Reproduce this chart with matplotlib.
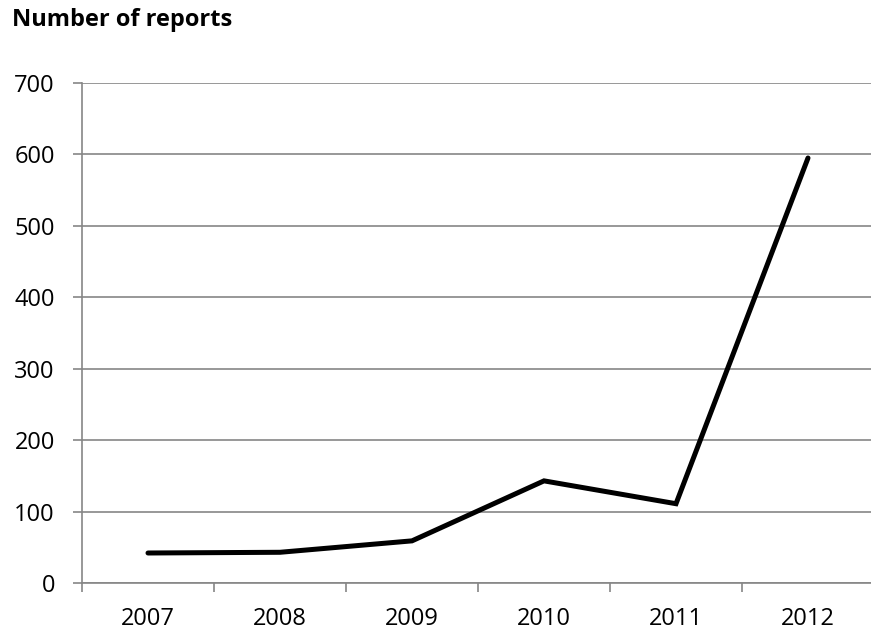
import matplotlib
matplotlib.use("Agg")
import matplotlib.pyplot as plt

years = ["2007", "2008", "2009", "2010", "2011", "2012"]
reports = [42, 43, 59, 143, 111, 595]
y_ticks = [0, 100, 200, 300, 400, 500, 600, 700]

plt.rcParams["font.family"] = ["Open Sans", "DejaVu Sans"]
GRID = "#868686"
FS = 17

fig = plt.figure(figsize=(8.71, 6.33), dpi=100)
W, H = 871, 633
ax = fig.add_axes([82 / W, (H - 583) / H, (874 - 82) / W, (583 - 83) / H])

x = list(range(len(years)))
ax.plot(x, reports, color="black", lw=3.6, solid_capstyle="round",
        solid_joinstyle="miter", zorder=3)

ax.set_xlim(-0.5, len(years) - 0.5)
ax.set_ylim(0, 700)
ax.set_yticks(y_ticks)
ax.set_yticklabels([str(v) for v in y_ticks], fontsize=FS)
ax.yaxis.grid(True, color=GRID, lw=1.2)
ax.set_axisbelow(True)

ax.set_xticks([i + 0.5 for i in range(-1, len(years))])
ax.set_xticklabels([])
ax.set_xticks(x, minor=True)
ax.set_xticklabels(years, minor=True, fontsize=FS)
ax.tick_params(axis="x", which="major", length=6.5, color=GRID, width=1.2, direction="out")
ax.tick_params(axis="x", which="minor", length=0, pad=17)
ax.tick_params(axis="y", length=6.5, color=GRID, width=1.2, pad=13)

for side in ("top", "right"):
    ax.spines[side].set_visible(False)
for side in ("left", "bottom"):
    ax.spines[side].set_color(GRID)
    ax.spines[side].set_linewidth(1.2)

fig.text(12 / W, 1 - 8 / H, "Number of reports", fontsize=FS,
         fontweight="bold", ha="left", va="top")

fig.savefig("out.png", dpi=100)
